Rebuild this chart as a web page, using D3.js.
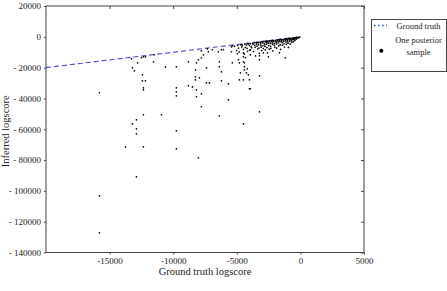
<!DOCTYPE html>
<html>
<head>
<meta charset="utf-8">
<script src="https://cdn.jsdelivr.net/npm/d3@7"></script>
<style>
  body { margin: 0; background: #fff; }
  text { font-family: "Liberation Serif", "DejaVu Serif", serif; fill: #222; }
</style>
</head>
<body>
<div id="viz"></div>
<script>
// axis ticks
let xTicks = [-15000, -10000, -5000, 0, 5000]
let yTicks = [20000, 0, -20000, -40000, -60000, -80000, -100000, -120000, -140000]

// ground truth line (y = x)
let truthX = [-20000, 0]
let truthY = [-20000, 0]

// scattered samples far below the line: [ground truth, inferred]
let tailPoints = [
  [-15800, -36300], [-15800, -103200], [-15800, -127200],
  [-13750, -71400], [-13280, -14300], [-13200, -20100], [-13050, -22100],
  [-12800, -16900], [-12500, -13600], [-12340, -13000], [-12180, -13000],
  [-12420, -24700], [-12420, -28600], [-12180, -28600], [-12340, -33100],
  [-12340, -34400], [-12340, -50600], [-12890, -53900], [-13200, -56500],
  [-12890, -59700], [-12890, -63000], [-12890, -90900], [-12340, -71400],
  [-11550, -16200], [-11500, -11650], [-10920, -50600], [-10610, -19500],
  [-9750, -19500], [-9750, -33100], [-9750, -35700], [-9750, -38300],
  [-9750, -61000], [-9750, -72700], [-8800, -16200], [-8170, -16900],
  [-8250, -21400], [-8250, -26000], [-8250, -27900], [-7940, -26600],
  [-8170, -34400], [-8170, -38900], [-8020, -14900], [-7780, -37000],
  [-7780, -45400], [-8800, -31800], [-8490, -32500], [-7390, -29900],
  [-7150, -29900], [-7390, -20100], [-8020, -78500], [-6370, -16200],
  [-6370, -19500], [-6210, -22700], [-6210, -28600], [-5660, -30500],
  [-5660, -40900], [-6370, -51300], [-5350, -16900], [-7780, -13600],
  [-7620, -11700], [-7230, -9700], [-6450, -9700], [-6210, -8400],
  [-6050, -8400], [-6920, -8400], [-7310, -7800], [-7780, -9100],
  [-5420, -6500], [-5420, -9700], [-4800, -27900], [-4480, -56500],
  [-3930, -33700], [-3220, -25300], [-3220, -48700], [-4870, -14900],
  [-4480, -16200], [-5350, -5850], [-4480, -10400], [-4480, -13000],
  [-4800, -16900], [-4320, -13600], [-3930, -8400], [-3930, -11700],
  [-3220, -12300], [-3220, -14900], [-2910, -10400], [-2590, -10400],
  [-2520, -13000], [-1650, -10400], [-1180, -13600], [-4400, -16900],
  [-4400, -19500], [-4400, -21400], [-4170, -20800], [-4240, -23400],
  [-4090, -24700], [-4720, -23400], [-4480, -27900], [-4010, -27900],
  [-4010, -33700], [-4950, -11000]
]

// dense band of samples just below the line
let bandPoints = [
  [-5180, -6100], [-5020, -8900], [-4930, -5500], [-4860, -7300], [-4810, -9900],
  [-4690, -5150], [-4610, -6600], [-4570, -5800], [-4480, -8200], [-4420, -11100],
  [-4370, -4900], [-4330, -6900], [-4230, -5300], [-4190, -7500], [-4150, -9400],
  [-4060, -4600], [-4010, -5700], [-3980, -8700], [-3940, -4400], [-3870, -6300],
  [-3830, -7100], [-3760, -4200], [-3720, -5000], [-3690, -9600], [-3640, -4000],
  [-3580, -5500], [-3560, -6800], [-3530, -12400], [-3470, -3800], [-3440, -4700],
  [-3410, -6100], [-3360, -7900], [-3310, -3700], [-3290, -5100], [-3260, -7300],
  [-3230, -10700], [-3170, -3500], [-3140, -4200], [-3110, -5400], [-3080, -6700],
  [-3050, -8900], [-3010, -3300], [-2980, -3900], [-2950, -5800], [-2920, -7600],
  [-2870, -3150], [-2840, -4500], [-2810, -5200], [-2780, -6300], [-2760, -8500],
  [-2720, -3000], [-2690, -3600], [-2660, -4800], [-2630, -7000], [-2580, -2850],
  [-2550, -3400], [-2530, -4100], [-2490, -5700], [-2460, -8000], [-2430, -2700],
  [-2400, -3200], [-2370, -4400], [-2340, -6200], [-2320, -7500], [-2280, -2550],
  [-2250, -3000], [-2220, -3800], [-2190, -4900], [-2170, -9100], [-2120, -2400],
  [-2090, -2900], [-2060, -4300], [-2040, -5500], [-2010, -6800], [-1970, -2250],
  [-1940, -2700], [-1910, -3500], [-1880, -4600], [-1860, -7300], [-1820, -2050],
  [-1790, -2500], [-1760, -3100], [-1740, -4000], [-1710, -5900], [-1670, -1900],
  [-1640, -2400], [-1610, -3200], [-1590, -5100], [-1560, -8100], [-1520, -1750],
  [-1490, -2200], [-1470, -2800], [-1440, -3800], [-1410, -5400], [-1370, -1600],
  [-1340, -2000], [-1310, -2900], [-1290, -4500], [-1260, -6600], [-1220, -1450],
  [-1190, -1850], [-1170, -2500], [-1140, -3500], [-1110, -4900], [-1070, -1250],
  [-1040, -1650], [-1020, -2300], [-990, -3200], [-970, -4100], [-940, -6900],
  [-910, -1150], [-880, -1550], [-860, -2100], [-830, -2900], [-810, -4700],
  [-770, -950], [-740, -1350], [-720, -1900], [-690, -2600], [-670, -3700],
  [-630, -820], [-600, -1250], [-580, -1800], [-550, -3100], [-510, -680],
  [-480, -1050], [-460, -1650], [-430, -2400], [-390, -540], [-360, -880],
  [-330, -1450], [-280, -420], [-240, -780], [-190, -350], [-150, -620],
  [-110, -290], [-60, -200], [-4600, -4850], [-4150, -4400], [-3350, -3550],
  [-2680, -2800], [-2210, -2350], [-1580, -1700], [-1130, -1220], [-850, -930]
]

let width = 447
let height = 291
let margin = { left: 46, right: 83, top: 6, bottom: 38.5 }

let svg = d3.select('#viz')
  .append('svg')
  .attr('width', width)
  .attr('height', height)

let x = d3.scaleLinear()
  .domain([-20000, 5000])
  .range([margin.left, width - margin.right])

let y = d3.scaleLinear()
  .domain([-140000, 20000])
  .range([height - margin.bottom, margin.top])

let fmtY = d => d < 0 ? '- ' + Math.abs(d) : String(d)
let fmtX = d => String(d)

// axes: outward ticks on left/bottom, inward on top/right
let axisBottom = svg.append('g')
  .attr('transform', `translate(0,${y(-140000)})`)
  .call(d3.axisBottom(x).tickValues(xTicks).tickFormat(fmtX).tickSize(2).tickPadding(3))

let axisTop = svg.append('g')
  .attr('transform', `translate(0,${y(20000)})`)
  .call(d3.axisBottom(x).tickValues(xTicks).tickFormat('').tickSize(3))

let axisLeft = svg.append('g')
  .attr('transform', `translate(${x(-20000)},0)`)
  .call(d3.axisLeft(y).tickValues(yTicks).tickFormat(fmtY).tickSize(2).tickPadding(3))

let axisRight = svg.append('g')
  .attr('transform', `translate(${x(5000)},0)`)
  .call(d3.axisLeft(y).tickValues(yTicks).tickFormat('').tickSize(3))

;[axisBottom, axisTop, axisLeft, axisRight].forEach(a => {
  a.attr('font-family', null)
  a.select('.domain').remove()
  a.selectAll('line').attr('stroke', '#444')
  a.selectAll('text')
    .style('font-family', '"Liberation Serif", serif')
    .style('font-size', '9px')
    .style('white-space', 'pre')
    .attr('fill', '#222')
})

// plot frame
svg.append('rect')
  .attr('x', x(-20000))
  .attr('y', y(20000))
  .attr('width', x(5000) - x(-20000))
  .attr('height', y(-140000) - y(20000))
  .attr('fill', 'none')
  .attr('stroke', '#444')
  .attr('stroke-width', 1)

// ground truth dashed line
svg.append('line')
  .attr('x1', x(truthX[0]))
  .attr('y1', y(truthY[0]))
  .attr('x2', x(truthX[1]))
  .attr('y2', y(truthY[1]))
  .attr('stroke', '#4848d4')
  .attr('stroke-width', 1.1)
  .attr('stroke-dasharray', '5,3')

// posterior samples
let allPoints = tailPoints.concat(bandPoints)
svg.append('g')
  .selectAll('circle')
  .data(allPoints)
  .join('circle')
  .attr('cx', d => x(d[0]))
  .attr('cy', d => y(d[1]))
  .attr('r', 0.85)
  .attr('fill', '#000')

// axis titles
svg.append('text')
  .attr('x', (x(-20000) + x(5000)) / 2)
  .attr('y', 275)
  .attr('text-anchor', 'middle')
  .style('font-size', '10.5px')
  .text('Ground truth logscore')

svg.append('text')
  .attr('transform', `translate(9,${(y(20000) + y(-140000)) / 2 + 2}) rotate(-90)`)
  .attr('text-anchor', 'middle')
  .style('font-size', '10.5px')
  .text('Inferred logscore')

// legend
let legend = svg.append('g')
legend.append('rect')
  .attr('x', 371.5)
  .attr('y', 19.5)
  .attr('width', 75)
  .attr('height', 52)
  .attr('fill', '#fff')
  .attr('stroke', '#444')
  .attr('stroke-width', 1)

legend.append('line')
  .attr('x1', 374)
  .attr('x2', 387)
  .attr('y1', 25.5)
  .attr('y2', 25.5)
  .attr('stroke', '#2255cc')
  .attr('stroke-width', 1.6)
  .attr('stroke-dasharray', '1.6,2.4')

legend.append('text')
  .attr('x', 418.5)
  .attr('y', 28.5)
  .attr('text-anchor', 'middle')
  .style('font-size', '8.5px')
  .text('Ground truth')

legend.append('circle')
  .attr('cx', 381.3)
  .attr('cy', 50.7)
  .attr('r', 2)
  .attr('fill', '#000')

legend.append('text')
  .attr('x', 418.5)
  .attr('y', 43)
  .attr('text-anchor', 'middle')
  .style('font-size', '8.5px')
  .text('One posterior')

legend.append('text')
  .attr('x', 418.5)
  .attr('y', 54.5)
  .attr('text-anchor', 'middle')
  .style('font-size', '8.5px')
  .text('sample')
</script>
</body>
</html>
